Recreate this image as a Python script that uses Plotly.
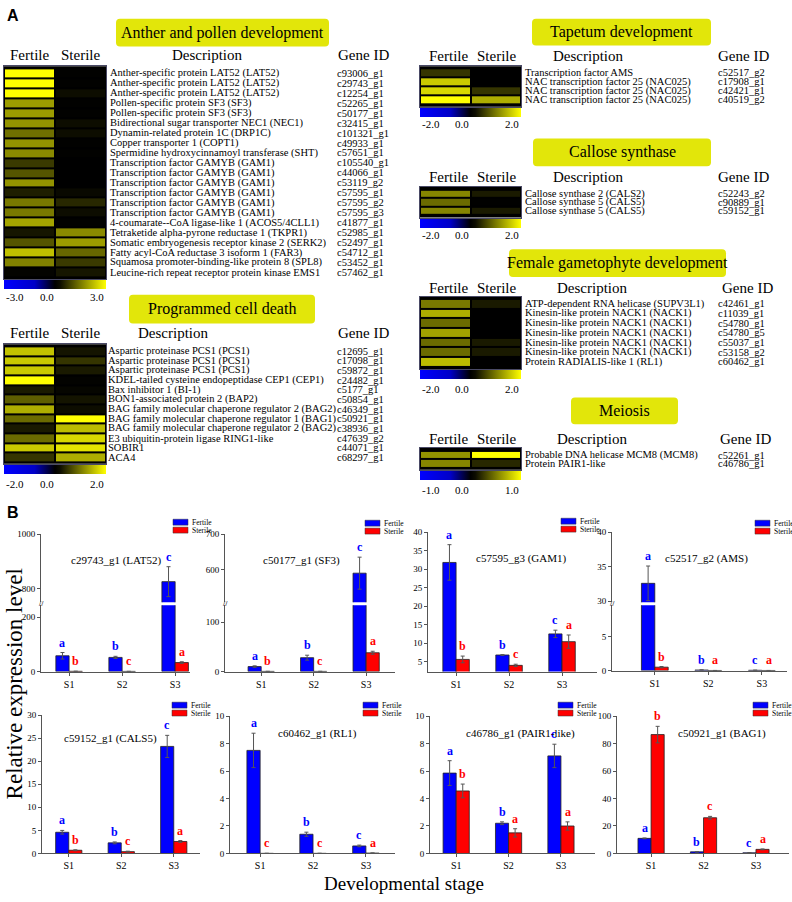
import plotly.graph_objects as go

W, H = 792, 902
SERIF = "Liberation Serif, Times New Roman, serif"
SANS = "Liberation Sans, Arial, sans-serif"


def X(px):
    return px / W


def Y(py):
    return 1 - py / H


# ---------------- Panel A data ----------------
anther_genes = ['c93006_g1', 'c29743_g1', 'c12254_g1', 'c52265_g1', 'c50177_g1', 'c32415_g1',
                'c101321_g1', 'c49933_g1', 'c57651_g1', 'c105540_g1', 'c44066_g1', 'c53119_g2',
                'c57595_g1', 'c57595_g2', 'c57595_g3', 'c41877_g1', 'c52985_g1', 'c52497_g1',
                'c54712_g1', 'c53452_g1', 'c57462_g1']
anther_desc = ['Anther-specific protein LAT52 (LAT52)', 'Anther-specific protein LAT52 (LAT52)',
               'Anther-specific protein LAT52 (LAT52)', 'Pollen-specific protein SF3 (SF3)',
               'Pollen-specific protein SF3 (SF3)', 'Bidirectional sugar transporter NEC1 (NEC1)',
               'Dynamin-related protein 1C (DRP1C)', 'Copper transporter 1 (COPT1)',
               'Spermidine hydroxycinnamoyl transferase (SHT)', 'Transcription factor GAMYB (GAM1)',
               'Transcription factor GAMYB (GAM1)', 'Transcription factor GAMYB (GAM1)',
               'Transcription factor GAMYB (GAM1)', 'Transcription factor GAMYB (GAM1)',
               'Transcription factor GAMYB (GAM1)', '4-coumarate--CoA ligase-like 1 (ACOS5/4CLL1)',
               'Tetraketide alpha-pyrone reductase 1 (TKPR1)', 'Somatic embryogenesis receptor kinase 2 (SERK2)',
               'Fatty acyl-CoA reductase 3 isoform 1 (FAR3)', 'Squamosa promoter-binding-like protein 8 (SPL8)',
               'Leucine-rich repeat receptor protein kinase EMS1']
anther_fertile = [3.0, 3.0, 3.0, 1.9, 1.9, 1.8, 1.4, 1.8, 1.7, 0.8, 1.1, 1.8, 0.5, 1.5, 1.5, 2.0,
                  0.4, 1.1, 2.3, 1.6, 0.1]
anther_sterile = [0.05, 0.05, 0.3, 0.05, 0.05, 0.3, 0.3, 0.05, 0.05, 0.0, 0.0, 0.0, 0.2, 0.6, 0.3,
                  0.05, 1.7, 1.9, 1.3, 0.8, 0.4]

pcd_genes = ['c12695_g1', 'c17098_g1', 'c59872_g1', 'c24482_g1', 'c5177_g1', 'c50854_g1',
             'c46349_g1', 'c50921_g1', 'c38936_g1', 'c47639_g2', 'c44071_g1', 'c68297_g1']
pcd_desc = ['Aspartic proteinase PCS1 (PCS1)', 'Aspartic proteinase PCS1 (PCS1)',
            'Aspartic proteinase PCS1 (PCS1)', 'KDEL-tailed cysteine endopeptidase CEP1 (CEP1)',
            'Bax inhibitor 1 (BI-1)', 'BON1-associated protein 2 (BAP2)',
            'BAG family molecular chaperone regulator 2 (BAG2)',
            'BAG family molecular chaperone regulator 1 (BAG1)',
            'BAG family molecular chaperone regulator 2 (BAG2)',
            'E3 ubiquitin-protein ligase RING1-like', 'SOBIR1', 'ACA4']
pcd_fertile = [1.55, 1.6, 1.6, 2.0, 0.3, 0.8, 1.4, 0.9, 0.3, 0.9, 1.6, 0.5]
pcd_sterile = [0.25, 0.5, 0.3, 0.05, 0.1, 0.25, 0.2, 2.0, 1.5, 1.7, 1.8, 1.4]

tap_genes = ['c52517_g2', 'c17908_g1', 'c42421_g1', 'c40519_g2']
tap_desc = ['Transcription factor AMS', 'NAC transcription factor 25 (NAC025)',
            'NAC transcription factor 25 (NAC025)', 'NAC transcription factor 25 (NAC025)']
tap_fertile = [0.5, 1.6, 1.7, 2.0]
tap_sterile = [0.0, 0.0, 0.5, 1.4]

cal_genes = ['c52243_g2', 'c90889_g1', 'c59152_g1']
cal_desc = ['Callose synthase 2 (CALS2)', 'Callose synthase 5 (CALS5)', 'Callose synthase 5 (CALS5)']
cal_fertile = [1.1, 0.9, 1.1]
cal_sterile = [0.3, 0.02, 0.3]

fem_genes = ['c42461_g1', 'c11039_g1', 'c54780_g1', 'c54780_g5', 'c55037_g1', 'c53158_g2', 'c60462_g1']
fem_desc = ['ATP-dependent RNA helicase (SUPV3L1)', 'Kinesin-like protein NACK1 (NACK1)',
            'Kinesin-like protein NACK1 (NACK1)', 'Kinesin-like protein NACK1 (NACK1)',
            'Kinesin-like protein NACK1 (NACK1)', 'Kinesin-like protein NACK1 (NACK1)',
            'Protein RADIALIS-like 1 (RL1)']
fem_fertile = [1.0, 1.4, 0.9, 1.3, 0.9, 0.9, 1.5]
fem_sterile = [0.3, 0.0, 0.0, 0.0, 0.3, 0.3, 0.0]

mei_genes = ['c52261_g1', 'c46786_g1']
mei_desc = ['Probable DNA helicase MCM8 (MCM8)', 'Protein PAIR1-like']
mei_fertile = [0.6, 0.55]
mei_sterile = [1.0, 0.2]

# ---------------- Panel B data ----------------
stages = ['S1', 'S2', 'S3']

lat52_fertile = [58, 52, 825]
lat52_fertile_err = [12, 4, 55]
lat52_sterile = [0.8, 0.5, 33]
lat52_sterile_err = [0.2, 0.2, 3]
lat52_fertile_letters = ['a', 'b', 'c']
lat52_sterile_letters = ['b', 'c', 'a']

sf3_fertile = [10, 28, 590]
sf3_fertile_err = [1.5, 5, 45]
sf3_sterile = [0.3, 0.3, 38]
sf3_sterile_err = [0.1, 0.1, 3]
sf3_fertile_letters = ['a', 'b', 'c']
sf3_sterile_letters = ['b', 'c', 'a']

gam1_fertile = [31.8, 6.8, 12.5]
gam1_fertile_err = [4.8, 0.1, 1.0]
gam1_sterile = [5.6, 4.0, 10.4]
gam1_sterile_err = [0.9, 0.3, 1.8]
gam1_fertile_letters = ['a', 'b', 'c']
gam1_sterile_letters = ['b', 'c', 'a']

ams_fertile = [32.6, 0.08, 0.04]
ams_fertile_err = [2.5, 0.02, 0.01]
ams_sterile = [0.5, 0.01, 0.01]
ams_sterile_err = [0.1, 0.005, 0.005]
ams_fertile_letters = ['a', 'b', 'c']
ams_sterile_letters = ['b', 'a', 'a']

cals5_fertile = [4.6, 2.3, 23.2]
cals5_fertile_err = [0.4, 0.2, 2.4]
cals5_sterile = [0.7, 0.4, 2.6]
cals5_sterile_err = [0.1, 0.1, 0.2]
cals5_fertile_letters = ['a', 'b', 'c']
cals5_sterile_letters = ['b', 'c', 'a']

rl1_fertile = [7.5, 1.4, 0.55]
rl1_fertile_err = [1.25, 0.15, 0.06]
rl1_sterile = [0.01, 0.01, 0.03]
rl1_sterile_err = [0.0, 0.0, 0.01]
rl1_fertile_letters = ['a', 'b', 'c']
rl1_sterile_letters = ['c', 'c', 'a']

pair1_fertile = [5.85, 2.2, 7.1]
pair1_fertile_err = [0.9, 0.1, 0.85]
pair1_sterile = [4.55, 1.5, 2.0]
pair1_sterile_err = [0.5, 0.3, 0.3]
pair1_fertile_letters = ['a', 'b', 'c']
pair1_sterile_letters = ['b', 'a', 'a']

bag1_fertile = [11, 1.2, 0.5]
bag1_fertile_err = [0.3, 0.1, 0.1]
bag1_sterile = [86.5, 26, 3.0]
bag1_sterile_err = [6, 1, 0.3]
bag1_fertile_letters = ['a', 'b', 'c']
bag1_sterile_letters = ['b', 'c', 'a']

# ---------------- figure helpers ----------------
layout = {}
traces = []
annotations = []
shapes = []
_ax = [0]


def new_axes(xd, yd, xopts, yopts):
    _ax[0] += 1
    n = _ax[0]
    s = '' if n == 1 else str(n)
    layout['xaxis' + s] = dict(domain=xd, anchor='y' + s, **xopts)
    layout['yaxis' + s] = dict(domain=yd, anchor='x' + s, **yopts)
    return 'x' + s, 'y' + s


def rounded_path(x0, y0, x1, y1, r):
    pts = [
        ('M', [(x0 + r, y0)]), ('L', [(x1 - r, y0)]), ('Q', [(x1, y0), (x1, y0 + r)]),
        ('L', [(x1, y1 - r)]), ('Q', [(x1, y1), (x1 - r, y1)]), ('L', [(x0 + r, y1)]),
        ('Q', [(x0, y1), (x0, y1 - r)]), ('L', [(x0, y0 + r)]), ('Q', [(x0, y0), (x0 + r, y0)]),
    ]
    out = ''
    for cmd, ps in pts:
        out += cmd + ' ' + ' '.join(f'{X(a):.5f},{Y(b):.5f}' for a, b in ps) + ' '
    return out + 'Z'


CS = [[0, '#0000ff'], [0.3, '#0000c8'], [0.5, '#000000'], [0.55, '#0d0d00'], [1, '#ffff00']]


def txt(text, x, y, size, anchor='center', family=SERIF, color='black'):
    annotations.append(dict(text=text, x=X(x), y=Y(y), xref='paper', yref='paper', showarrow=False,
                            xanchor=anchor, yanchor='middle',
                            font=dict(family=family, size=size, color=color)))


def add_heatmap(title, box, genes, desc, fert, ster, zmax, x0, x1, y0, y1,
                desc_x, gene_x, hdr_y, hdr_x, lab_y):
    xa, ya = new_axes(
        [X(x0), X(x1)], [Y(y1), Y(y0)],
        dict(range=[-0.5, 1.5], showticklabels=False, showgrid=False, zeroline=False,
             showline=True, mirror=True, linecolor='#4a4a66', linewidth=1, ticks=''),
        dict(type='category', autorange='reversed', showticklabels=False, showgrid=False,
             zeroline=False, showline=True, mirror=True, linecolor='#4a4a66', linewidth=1, ticks=''))
    z = [[f, s] for f, s in zip(fert, ster)]
    traces.append(go.Heatmap(
        z=z, x=['Fertile', 'Sterile'], y=genes, colorscale=CS, zmin=-zmax, zmax=zmax,
        xgap=2, ygap=2, xaxis=xa, yaxis=ya, hoverinfo='skip',
        colorbar=dict(orientation='h', x=X(x0), xanchor='left', y=Y(y1 + 1), yanchor='top',
                      len=x1 - x0, lenmode='pixels', thickness=9, thicknessmode='pixels',
                      xpad=0, ypad=0, outlinewidth=0, showticklabels=False, ticks='')))
    txt(f'{-zmax:.1f}', x0, lab_y, 11, 'left')
    txt('0.0', x0 + 0.42 * (x1 - x0), lab_y, 11, 'center')
    txt(f'{zmax:.1f}', x1, lab_y, 11, 'right')
    shapes.append(dict(type='rect', xref='paper', yref='paper', x0=X(x0), x1=X(x1), y0=Y(y1),
                       y1=Y(y0), fillcolor='black', line=dict(width=0), layer='below'))
    for g, d in zip(genes, desc):
        annotations.append(dict(text=d, x=X(desc_x), xref='paper', y=g, yref=ya, xanchor='left',
                                yanchor='middle', showarrow=False, borderpad=0,
                                font=dict(family=SERIF, size=10.5, color='black')))
        annotations.append(dict(text=g, x=X(gene_x), xref='paper', y=g, yref=ya, xanchor='left',
                                yanchor='middle', showarrow=False, borderpad=0,
                                font=dict(family=SERIF, size=10.5, color='black')))
    for t, hx in zip(['Fertile', 'Sterile', 'Description', 'Gene ID'], hdr_x):
        txt(t, hx, hdr_y, 15)
    bx0, by0, bx1, by1 = box
    shapes.append(dict(type='path', xref='paper', yref='paper', path=rounded_path(bx0, by0, bx1, by1, 4),
                       fillcolor='#e2e60a', line=dict(width=0)))
    txt(title, (bx0 + bx1) / 2, (by0 + by1) / 2, 16)


add_heatmap('Anther and pollen development', (116, 14, 329, 42), anther_genes, anther_desc,
            anther_fertile, anther_sterile, 3, 4, 106, 62, 277, 109, 336, 51, (29, 80, 207, 363), 295)
add_heatmap('Programmed cell death', (129, 293, 315, 322), pcd_genes, pcd_desc,
            pcd_fertile, pcd_sterile, 2, 4, 106, 343, 464, 107, 336, 332, (29, 80, 173, 363), 484)
add_heatmap('Tapetum development', (532, 14, 711, 41), tap_genes, tap_desc,
            tap_fertile, tap_sterile, 2, 420, 521, 62, 103, 524, 717, 52, (448, 496, 588, 743), 120)
add_heatmap('Callose synthase', (533, 135, 711, 163), cal_genes, cal_desc,
            cal_fertile, cal_sterile, 2, 420, 521, 184, 215, 524, 717, 174, (448, 496, 588, 743), 233)
add_heatmap('Female gametophyte development', (509, 247, 726, 275), fem_genes, fem_desc,
            fem_fertile, fem_sterile, 2, 420, 521, 295, 368, 524, 717, 286, (448, 496, 592, 747), 388)
add_heatmap('Meiosis', (571, 397, 678, 424), mei_genes, mei_desc,
            mei_fertile, mei_sterile, 1, 420, 521, 448, 470, 524, 717, 439, (448, 496, 592, 745), 490)

# ---------------- bar charts ----------------
BLUE = '#0000ff'
RED = '#ff0000'
LINE = '#555555'


def bar_axes(x0, x1, ytop, ybot, xr, yr, dtick, show_x=True):
    xo = dict(range=xr, tickvals=[0, 1, 2], ticktext=stages, showline=True, linecolor=LINE,
              linewidth=1, ticks='outside', ticklen=3, tickcolor=LINE, showgrid=False, zeroline=False,
              tickfont=dict(family=SERIF, size=10, color='black'), visible=show_x)
    yo = dict(range=yr, dtick=dtick, tick0=0, showline=True, linecolor=LINE, linewidth=1,
              ticks='outside', ticklen=3, tickcolor=LINE, showgrid=False, zeroline=False,
              tickfont=dict(family=SERIF, size=9, color='black'))
    return new_axes([X(x0), X(x1)], [Y(ybot), Y(ytop)], xo, yo)


def add_bars(xa, ya, f, fe, s, se):
    idx = list(range(len(stages)))
    traces.append(go.Bar(x=idx, y=f, xaxis=xa, yaxis=ya, showlegend=False, hoverinfo='skip',
                         marker=dict(color=BLUE, line=dict(color='#222222', width=0.8)),
                         error_y=dict(type='data', array=fe, color='#555555', thickness=1, width=2)))
    traces.append(go.Bar(x=idx, y=s, xaxis=xa, yaxis=ya, showlegend=False, hoverinfo='skip',
                         marker=dict(color=RED, line=dict(color='#222222', width=0.8)),
                         error_y=dict(type='data', array=se, color='#555555', thickness=1, width=2)))


def add_letters(segments, f, fe, s, se, fl, sl):
    for vals, errs, lets, off, col in ((f, fe, fl, -0.125, BLUE), (s, se, sl, 0.125, RED)):
        for i, (v, e, l) in enumerate(zip(vals, errs, lets)):
            top = v + e
            for k, (xa, ya, lo, hi) in enumerate(segments):
                if lo <= top <= hi or (top < lo and k == 0):
                    annotations.append(dict(text=f'<b>{l}</b>', x=i + off, y=max(top, lo), xref=xa,
                                            yref=ya, xanchor='center', yanchor='bottom', yshift=1,
                                            showarrow=False, font=dict(family=SERIF, size=12, color=col)))
                    break


def add_chart_decor(title, tx, ty, lx, ly):
    txt(title, tx, ty, 11)
    for k, (name, col) in enumerate((('Fertile', BLUE), ('Sterile', RED))):
        yy = ly + 8 * k
        shapes.append(dict(type='rect', xref='paper', yref='paper', x0=X(lx), x1=X(lx + 15),
                           y0=Y(yy + 6), y1=Y(yy), fillcolor=col, line=dict(color='#333333', width=0.5)))
        txt(name, lx + 16.5, yy + 3, 7.5, 'left')


def simple_chart(title, x0, x1, ytop, ybot, xr, yr, dtick, f, fe, s, se, fl, sl, tpos, lpos):
    xa, ya = bar_axes(x0, x1, ytop, ybot, xr, yr, dtick)
    add_bars(xa, ya, f, fe, s, se)
    add_letters([(xa, ya, yr[0], yr[1])], f, fe, s, se, fl, sl)
    add_chart_decor(title, tpos[0], tpos[1], lpos[0], lpos[1])


def broken_chart(title, x0, x1, ytop, ybreak_top, ybreak_bot, ybot, xr, yr_low, yr_high,
                 dtick, f, fe, s, se, fl, sl, tpos, lpos):
    xl, yl = bar_axes(x0, x1, ybreak_bot, ybot, xr, yr_low, dtick)
    xh, yh = bar_axes(x0, x1, ytop, ybreak_top, xr, yr_high, dtick, show_x=False)
    add_bars(xl, yl, f, fe, s, se)
    add_bars(xh, yh, f, fe, s, se)
    add_letters([(xl, yl, yr_low[0], yr_low[1]), (xh, yh, yr_high[0], yr_high[1])],
                f, fe, s, se, fl, sl)
    add_chart_decor(title, tpos[0], tpos[1], lpos[0], lpos[1])
    txt('//', x0, (ybreak_top + ybreak_bot) / 2, 8, 'center', SANS, '#444444')


broken_chart('c29743_g1 (LAT52)', 41, 190, 535, 604, 607, 674, [-0.53, 2.28], [0, 244], [749, 1000],
             200, lat52_fertile, lat52_fertile_err, lat52_sterile, lat52_sterile_err,
             lat52_fertile_letters, lat52_sterile_letters, (116, 562), (173, 520))
broken_chart('c50177_g1 (SF3)', 225, 395, 535, 604, 607, 674, [-0.69, 2.55], [0, 134], [508, 700],
             100, sf3_fertile, sf3_fertile_err, sf3_sterile, sf3_sterile_err,
             sf3_fertile_letters, sf3_sterile_letters, (301, 562), (365, 521))
simple_chart('c57595_g3 (GAM1)', 428, 597, 533, 674, [-0.53, 2.66], [2.33, 40], 5,
             gam1_fertile, gam1_fertile_err, gam1_sterile, gam1_sterile_err,
             gam1_fertile_letters, gam1_sterile_letters, (521, 560), (561, 519))
broken_chart('c52517_g2 (AMS)', 612, 787, 533, 604, 607, 673, [-0.80, 2.47], [0, 9.7], [29.86, 40],
             5, ams_fertile, ams_fertile_err, ams_sterile, ams_sterile_err,
             ams_fertile_letters, ams_sterile_letters, (706, 560), (755, 521))

simple_chart('c59152_g1 (CALS5)', 42, 200, 718, 858, [-0.51, 2.50], [0, 30], 5,
             cals5_fertile, cals5_fertile_err, cals5_sterile, cals5_sterile_err,
             cals5_fertile_letters, cals5_sterile_letters, (111, 742), (172, 705))
simple_chart('c60462_g1 (RL1)', 230, 395, 719, 858, [-0.57, 2.55], [0, 10], 2,
             rl1_fertile, rl1_fertile_err, rl1_sterile, rl1_sterile_err,
             rl1_fertile_letters, rl1_sterile_letters, (317, 737), (363, 705))
simple_chart('c46786_g1 (PAIR1-like)', 430, 595, 719, 858, [-0.50, 2.65], [0, 10], 2,
             pair1_fertile, pair1_fertile_err, pair1_sterile, pair1_sterile_err,
             pair1_fertile_letters, pair1_sterile_letters, (520, 737), (558, 705))
simple_chart('c50921_g1 (BAG1)', 617, 789, 719, 858, [-0.65, 2.63], [0, 100], 20,
             bag1_fertile, bag1_fertile_err, bag1_sterile, bag1_sterile_err,
             bag1_fertile_letters, bag1_sterile_letters, (722, 737), (753, 705))

# ---------------- panel labels and axis titles ----------------
txt('<b>A</b>', 13, 11, 16, 'center', SANS)
txt('<b>B</b>', 13, 513, 16, 'center', SANS)
annotations.append(dict(text='Relative expression level', x=X(14), y=Y(687), xref='paper', yref='paper',
                        showarrow=False, textangle=-90, xanchor='center', yanchor='middle',
                        font=dict(family=SERIF, size=23, color='black')))
txt('Developmental stage', 404, 888, 19)

fig = go.Figure(data=traces)
fig.update_layout(**layout)
fig.update_layout(width=W, height=H, margin=dict(l=0, r=0, t=0, b=0), paper_bgcolor='white',
                  plot_bgcolor='white', barmode='group', bargap=0.5, bargroupgap=0,
                  showlegend=False, hovermode=False, annotations=annotations, shapes=shapes,
                  font=dict(family=SERIF, color='black'))
fig.write_html('out.html', config={'displayModeBar': False, 'staticPlot': True},
               post_script="document.body.style.margin='0';document.body.style.overflow='hidden';")
